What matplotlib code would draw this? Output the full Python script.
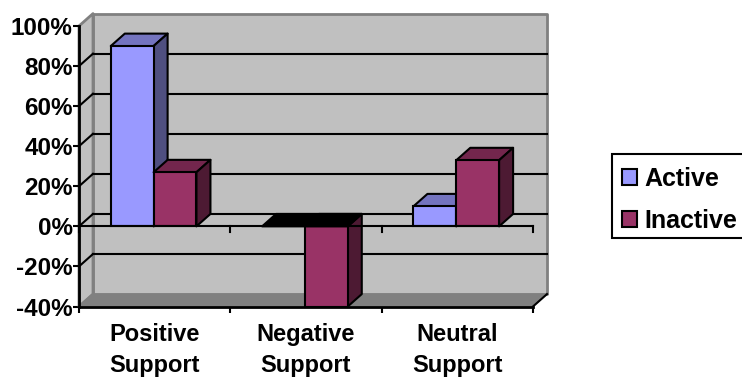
import matplotlib
matplotlib.use('Agg')
import matplotlib.pyplot as plt
from matplotlib.patches import Patch, Polygon, Rectangle

categories = ['Positive\nSupport', 'Negative\nSupport', 'Neutral\nSupport']
active = [90, 0, 10]
inactive = [27, -40, 33]
y_ticks = [-40, -20, 0, 20, 40, 60, 80, 100]
y_labels = ['-40%', '-20%', '0%', '20%', '40%', '60%', '80%', '100%']

plt.rcParams['font.family'] = ['Liberation Sans', 'DejaVu Sans']
plt.rcParams['font.weight'] = 'bold'

W, H = 742, 378
fig = plt.figure(figsize=(W / 100, H / 100), dpi=100)
# front plane of the 3d box, in pixels of the picture
left, right, top, bottom = 79, 533, 26, 306.5
ax = fig.add_axes([left / W, 1 - bottom / H, (right - left) / W, (bottom - top) / H])
ax.set_xlim(0, 3)
ax.set_ylim(-40, 100)
ax.patch.set_visible(False)

# depth of the box in data units
dx = 14 / 151.3
dy = 6.2
bar_w = 0.283
gap = 0.21
lw = 1.5


def poly(pts, fc, ec='black', z=3, lw=lw):
    ax.add_patch(Polygon(pts, closed=True, facecolor=fc, edgecolor=ec, linewidth=lw,
                         zorder=z, clip_on=False, joinstyle='round'))


# walls
wall = '#c0c0c0'
edge = '#808080'
poly([(dx, -40 + dy), (3 + dx, -40 + dy), (3 + dx, 100 + dy), (dx, 100 + dy)], wall, edge, 1, 2)
poly([(0, -40), (dx, -40 + dy), (dx, 100 + dy), (0, 100)], wall, edge, 1, 2)
poly([(0, -40), (3, -40), (3 + dx, -40 + dy), (dx, -40 + dy)], edge, edge, 1.5, 0.5)

# gridlines on the back wall and along the side wall
for v in y_ticks[1:-1]:
    ax.plot([dx, 3 + dx], [v + dy, v + dy], color='black', lw=1.5, zorder=2, clip_on=False)
for v in y_ticks[:-1]:
    ax.plot([0, dx], [v, v + dy], color='black' if v > -40 else edge, lw=1.5, zorder=2, clip_on=False)
ax.plot([3, 3 + dx], [-40, -40 + dy], color='black', lw=1.5, zorder=2, clip_on=False)


def bar3d(x, v, front, side, roof, z):
    # top face and side face, then the front through ax.bar
    roof_y = max(v, 0)
    poly([(x, roof_y), (x + bar_w, roof_y), (x + bar_w + dx, roof_y + dy), (x + dx, roof_y + dy)], roof, z=z)
    poly([(x + bar_w, 0), (x + bar_w, v), (x + bar_w + dx, v + dy), (x + bar_w + dx, dy)], side, z=z)
    ax.bar(x, v, width=bar_w, align='edge', color=front, edgecolor='black', linewidth=lw,
           zorder=z + 0.1, clip_on=False)


blue = ('#9999ff', '#4f4f80', '#7474bf')
maroon = ('#993366', '#4d1a33', '#73264d')
z = 3
for i in range(len(categories)):
    x = i + gap
    if active[i] != 0:
        bar3d(x, active[i], *blue, z)
    bar3d(x + bar_w, inactive[i], *maroon, z + 1)
    if active[i] == 0:
        # empty bar: the roof of this group renders black
        poly([(x, 0), (x + 2 * bar_w, 0), (x + 2 * bar_w + dx, dy), (x + dx, dy)], 'black', z=z + 2)
    z += 3

# front axis lines
ax.plot([0, 3], [0, 0], color='black', lw=1.5, zorder=20, clip_on=False)
ax.plot([0, 3], [-40, -40], color='black', lw=2, zorder=20, clip_on=False)
ax.plot([0, 0], [-40, 100], color='black', lw=2, zorder=20, clip_on=False)
for x in range(4):
    ax.plot([x, x], [0, -3], color='black', lw=1.5, zorder=20, clip_on=False)

for s in ax.spines.values():
    s.set_visible(False)
ax.set_yticks(y_ticks)
ax.set_yticklabels(y_labels, fontsize=17.5, fontweight='bold')
ax.set_xticks([0, 1, 2, 3])
ax.set_xticklabels([])
ax.set_xticks([0.5, 1.5, 2.5], minor=True)
ax.set_xticklabels(categories, minor=True, fontsize=17, fontweight='bold', linespacing=1.45)
ax.tick_params(axis='y', length=4, width=1.5, pad=0.5)
ax.tick_params(axis='x', which='major', length=4, width=1.5)
ax.tick_params(axis='x', which='minor', length=0, pad=12)

# legend box runs off the right edge of the picture
fig.add_artist(Rectangle((612 / W, 1 - 238 / H), 140 / W, 84 / H, transform=fig.transFigure,
                         facecolor='white', edgecolor='black', linewidth=1.5))
handles = [Patch(facecolor=blue[0], edgecolor='black', linewidth=1.5, label='Active'),
           Patch(facecolor=maroon[0], edgecolor='black', linewidth=1.5, label='Inactive')]
leg = fig.legend(handles=handles, loc='upper left', bbox_to_anchor=(611.5 / W, 1 - 157 / H),
                 bbox_transform=fig.transFigure, fontsize=18, handlelength=0.6, handleheight=0.6,
                 handletextpad=0.32, labelspacing=0.7, borderpad=0.4, borderaxespad=0,
                 frameon=False)

fig.savefig('out.png', dpi=100, facecolor='white')
